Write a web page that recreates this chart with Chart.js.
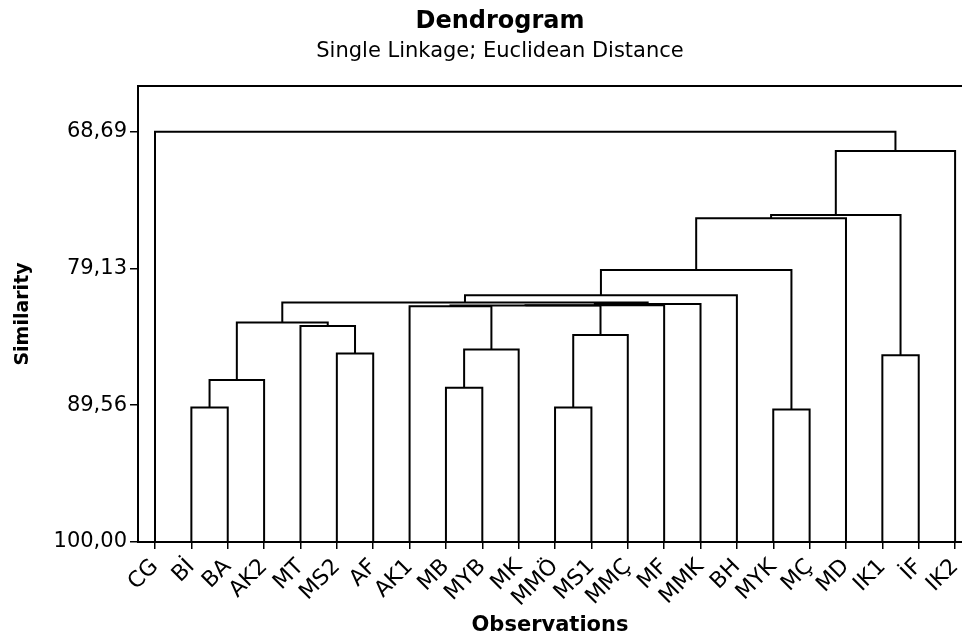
<!DOCTYPE html>
<html>
<head>
<meta charset="utf-8">
<script src="https://cdn.jsdelivr.net/npm/chart.js@4.4.1/dist/chart.umd.min.js"></script>
<style>
  html, body { margin: 0; padding: 0; background: #fff; }
</style>
</head>
<body>
<canvas id="dendro" width="962" height="636"></canvas>
<script>
var observations = ['CG', 'Bİ', 'BA', 'AK2', 'MT', 'MS2', 'AF', 'AK1', 'MB', 'MYB', 'MK', 'MMÖ',
  'MS1', 'MMÇ', 'MF', 'MMK', 'BH', 'MYK', 'MÇ', 'MD', 'IK1', 'İF', 'IK2'];

// leaves are nodes 0..22, each merge makes a new node (23, 24, ...)
var mergeLeft  = [17, 1, 11, 8, 24, 20, 5, 26, 25, 4, 27, 7, 34, 35, 36, 33, 38, 39, 40, 41, 42, 0];
var mergeRight = [18, 2, 12, 9, 3, 21, 6, 10, 13, 29, 32, 30, 31, 14, 15, 37, 16, 23, 19, 28, 22, 43];
var mergeSimilarity = [89.88, 89.73, 89.73, 88.23, 87.64, 85.74, 85.61, 85.30, 84.21, 83.52, 83.24,
  82.00, 81.96, 81.94, 81.84, 81.73, 81.16, 79.25, 75.30, 75.05, 70.16, 68.69];

var yTicks = [68.69, 79.13, 89.56, 100.00];

Chart.defaults.font.family = '"DejaVu Sans", sans-serif';
Chart.defaults.color = '#000';

// build the U shaped links from the merge table
var nodeX = observations.map(function (name, i) { return i; });
var nodeY = observations.map(function () { return 100; });
var links = [];
for (var i = 0; i < mergeLeft.length; i++) {
  var a = mergeLeft[i];
  var b = mergeRight[i];
  var h = mergeSimilarity[i];
  links.push({
    data: [
      { x: nodeX[a], y: nodeY[a] },
      { x: nodeX[a], y: h },
      { x: nodeX[b], y: h },
      { x: nodeX[b], y: nodeY[b] }
    ],
    showLine: true,
    borderColor: '#000',
    borderWidth: 2,
    borderJoinStyle: 'miter',
    pointRadius: 0,
    fill: false
  });
  nodeX.push((nodeX[a] + nodeX[b]) / 2);
  nodeY.push(h);
}

// titles and the top edge of the frame
var headings = {
  id: 'headings',
  afterDraw: function (chart) {
    var ctx = chart.ctx;
    var area = chart.chartArea;
    ctx.save();
    ctx.strokeStyle = '#000';
    ctx.lineWidth = 2;
    ctx.beginPath();
    ctx.moveTo(area.left - 1, area.top);
    ctx.lineTo(area.right, area.top);
    ctx.stroke();
    ctx.fillStyle = '#000';
    ctx.textAlign = 'center';
    ctx.font = 'bold 24px "DejaVu Sans"';
    ctx.fillText('Dendrogram', 500, 28);
    ctx.font = '21px "DejaVu Sans"';
    ctx.fillText('Single Linkage; Euclidean Distance', 500, 57);
    ctx.restore();
  }
};

var dendroChart = new Chart(document.getElementById('dendro'), {
  type: 'scatter',
  data: { datasets: links },
  plugins: [headings],
  options: {
    responsive: false,
    devicePixelRatio: 1,
    animation: false,
    layout: { padding: { top: 86, left: 0, right: 0, bottom: 0 } },
    plugins: {
      legend: { display: false },
      tooltip: { enabled: false }
    },
    scales: {
      x: {
        type: 'linear',
        min: -0.4675,
        max: 22.19,
        afterBuildTicks: function (scale) {
          scale.ticks = observations.map(function (name, i) { return { value: i }; });
        },
        afterFit: function (scale) {
          scale.height = 94;
          scale.paddingLeft = 0;
          scale.paddingRight = 0;
        },
        ticks: {
          autoSkip: false,
          minRotation: 45,
          maxRotation: 45,
          padding: 5,
          font: { size: 22 },
          callback: function (value) { return observations[value]; }
        },
        grid: { drawOnChartArea: false, tickLength: 7, color: '#000', lineWidth: 1.5 },
        border: { display: true, color: '#000', width: 2 },
        title: {
          display: true,
          text: 'Observations',
          font: { size: 21, weight: 'bold' },
          padding: { top: 0, bottom: -2 }
        }
      },
      y: {
        type: 'linear',
        reverse: true,
        min: 65.2,
        max: 100,
        afterBuildTicks: function (scale) {
          scale.ticks = yTicks.map(function (v) { return { value: v }; });
        },
        afterFit: function (scale) { scale.width = 138; },
        ticks: {
          padding: 3,
          font: { size: 21 },
          callback: function (value) { return value.toFixed(2).replace('.', ','); }
        },
        grid: { drawOnChartArea: false, tickLength: 8, color: '#000', lineWidth: 1.5 },
        border: { display: true, color: '#000', width: 2 },
        title: {
          display: true,
          text: 'Similarity',
          font: { size: 19, weight: 'bold' },
          padding: { top: 12, bottom: 0 }
        }
      }
    }
  }
});
</script>
</body>
</html>
